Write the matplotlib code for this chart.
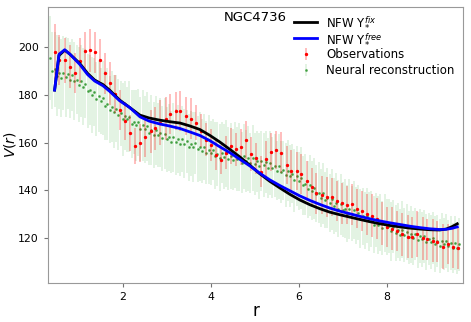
import numpy as np
import matplotlib
matplotlib.use('Agg')
import matplotlib.pyplot as plt

# observations (red points with error bars)
obs_r = [0.45, 0.56, 0.68, 0.79, 0.91, 1.02, 1.14, 1.25, 1.37, 1.48,
         1.60, 1.71, 1.82, 1.94, 2.05, 2.17, 2.28, 2.40, 2.51, 2.63,
         2.74, 2.85, 2.97, 3.08, 3.20, 3.31, 3.43, 3.54, 3.66, 3.77,
         3.89, 4.00, 4.11, 4.23, 4.34, 4.46, 4.57, 4.69, 4.80, 4.92,
         5.03, 5.14, 5.26, 5.37, 5.49, 5.60, 5.72, 5.83, 5.95, 6.06,
         6.18, 6.29, 6.40, 6.52, 6.63, 6.75, 6.86, 6.98, 7.09, 7.21,
         7.32, 7.43, 7.55, 7.66, 7.78, 7.89, 8.01, 8.12, 8.24, 8.35,
         8.47, 8.58, 8.69, 8.81, 8.92, 9.04, 9.15, 9.27, 9.38, 9.50,
         9.61]
obs_v = [198.0, 194.6, 194.5, 191.8, 189.2, 194.3, 198.5, 198.7, 197.8, 194.6,
         189.0, 184.8, 180.2, 173.6, 169.0, 164.0, 158.5, 160.0, 162.3, 164.8,
         166.0, 168.3, 170.0, 172.0, 173.3, 173.2, 171.2, 170.0, 168.4, 165.0,
         161.2, 159.0, 155.0, 152.8, 155.8, 158.5, 157.2, 158.2, 161.0, 155.2,
         153.4, 147.8, 153.0, 156.1, 156.9, 155.8, 150.6, 148.2, 148.2, 146.8,
         144.0, 141.2, 138.7, 138.0, 137.3, 137.3, 135.6, 134.5, 133.8, 134.1,
         132.4, 131.3, 130.0, 129.3, 128.2, 126.2, 124.7, 124.0, 123.0, 121.7,
         120.6, 120.3, 121.7, 119.9, 119.5, 118.9, 118.5, 116.4, 117.5, 116.4,
         115.7]
obs_err = [11.5, 10.5, 9.5, 9.0, 8.5, 9.5, 8.0, 9.0, 8.5, 9.0,
           8.5, 9.0, 8.0, 8.5, 8.0, 7.5, 7.5, 8.0, 8.5, 9.0,
           9.0, 9.5, 9.0, 8.5, 8.0, 8.5, 8.0, 8.5, 7.5, 7.0,
           7.0, 6.5, 6.5, 6.0, 7.0, 7.5, 7.0, 7.5, 8.0, 7.0,
           6.5, 6.5, 7.5, 8.0, 8.0, 8.5, 8.0, 8.5, 8.0, 8.5,
           8.5, 8.0, 8.5, 8.0, 8.5, 8.0, 8.5, 8.5, 8.0, 8.5,
           8.0, 8.5, 8.5, 9.0, 8.5, 9.0, 8.5, 9.0, 8.5, 9.0,
           9.0, 8.5, 9.5, 9.0, 8.5, 9.0, 8.5, 9.5, 8.5, 9.0,
           8.5]

# neural reconstruction (green points with error bars)
nn_r = [0.35, 0.40, 0.45, 0.50, 0.55, 0.60, 0.65, 0.70, 0.75, 0.80,
        0.85, 0.90, 0.95, 1.00, 1.05, 1.10, 1.15, 1.20, 1.25, 1.30,
        1.35, 1.40, 1.45, 1.50, 1.55, 1.60, 1.65, 1.70, 1.75, 1.80,
        1.85, 1.90, 1.95, 2.00, 2.05, 2.10, 2.15, 2.20, 2.25, 2.30,
        2.35, 2.40, 2.45, 2.50, 2.55, 2.60, 2.65, 2.70, 2.75, 2.80,
        2.85, 2.90, 2.95, 3.00, 3.05, 3.10, 3.15, 3.20, 3.25, 3.30,
        3.35, 3.40, 3.45, 3.50, 3.55, 3.60, 3.65, 3.70, 3.75, 3.80,
        3.85, 3.90, 3.95, 4.00, 4.05, 4.10, 4.15, 4.20, 4.25, 4.30,
        4.35, 4.40, 4.45, 4.50, 4.55, 4.60, 4.65, 4.70, 4.75, 4.80,
        4.85, 4.90, 4.95, 5.00, 5.05, 5.10, 5.15, 5.20, 5.25, 5.30,
        5.35, 5.40, 5.45, 5.50, 5.55, 5.60, 5.65, 5.70, 5.75, 5.80,
        5.85, 5.90, 5.95, 6.00, 6.05, 6.10, 6.15, 6.20, 6.25, 6.30,
        6.35, 6.40, 6.45, 6.50, 6.55, 6.60, 6.65, 6.70, 6.75, 6.80,
        6.85, 6.90, 6.95, 7.00, 7.05, 7.10, 7.15, 7.20, 7.25, 7.30,
        7.35, 7.40, 7.45, 7.50, 7.55, 7.60, 7.65, 7.70, 7.75, 7.80,
        7.85, 7.90, 7.95, 8.00, 8.05, 8.10, 8.15, 8.20, 8.25, 8.30,
        8.35, 8.40, 8.45, 8.50, 8.55, 8.60, 8.65, 8.70, 8.75, 8.80,
        8.85, 8.90, 8.95, 9.00, 9.05, 9.10, 9.15, 9.20, 9.25, 9.30,
        9.35, 9.40, 9.45, 9.50, 9.55, 9.60, 9.65]
nn_v = [195.5, 190.2, 190.7, 188.0, 189.3, 187.2, 189.1, 187.6, 188.8, 186.3,
        188.3, 185.8, 186.4, 184.3, 185.8, 183.5, 184.6, 181.6, 182.0, 179.9,
        181.3, 178.2, 179.4, 177.6, 178.7, 175.5, 176.1, 173.8, 175.1, 172.9,
        174.2, 171.6, 172.3, 169.7, 171.3, 169.7, 170.9, 167.9, 168.7, 167.2,
        168.5, 165.6, 167.2, 165.5, 166.8, 164.0, 165.2, 163.3, 165.1, 163.2,
        164.1, 161.9, 163.8, 161.4, 162.2, 160.2, 162.2, 160.2, 161.4, 159.3,
        161.4, 159.5, 160.6, 158.1, 159.5, 158.1, 159.9, 157.3, 158.3, 156.4,
        158.2, 155.8, 157.1, 155.6, 157.1, 154.5, 155.4, 153.7, 155.7, 154.0,
        155.5, 153.2, 154.4, 152.8, 154.9, 153.2, 154.0, 151.6, 154.2, 152.4,
        153.5, 151.4, 153.6, 151.1, 152.1, 150.2, 152.2, 150.5, 151.7, 149.3,
        151.4, 149.4, 150.3, 148.2, 150.1, 147.7, 148.4, 146.5, 148.3, 146.1,
        146.9, 144.3, 146.0, 144.0, 145.2, 142.1, 142.5, 140.4, 142.2, 139.8,
        140.9, 138.6, 139.1, 136.7, 138.7, 136.0, 136.7, 134.7, 136.3, 133.4,
        134.8, 132.3, 134.1, 131.9, 132.4, 130.2, 132.2, 130.3, 131.8, 129.5,
        130.7, 128.1, 129.1, 127.4, 129.4, 127.0, 127.9, 125.7, 127.5, 125.4,
        126.7, 124.2, 126.4, 124.6, 125.1, 122.9, 124.8, 122.2, 123.3, 121.3,
        123.5, 121.4, 122.6, 120.3, 121.6, 120.1, 121.9, 119.2, 120.9, 119.5,
        120.8, 118.3, 119.7, 118.3, 120.1, 117.5, 118.8, 116.6, 118.9, 117.7,
        118.9, 116.7, 117.9, 115.8, 117.8, 115.9, 117.4]
nn_err = [17.5, 16.2, 15.8, 17.0, 15.1, 16.4, 15.5, 16.8, 14.9, 15.9,
          15.2, 16.3, 14.6, 15.8, 14.9, 16.1, 14.4, 15.5, 14.8, 15.9,
          14.3, 15.6, 14.9, 13.8, 15.4, 14.5, 15.1, 13.9, 14.8, 15.3,
          14.1, 14.9, 13.6, 15.2, 14.4, 13.7, 15.0, 14.2, 13.5, 14.8,
          14.0, 13.3, 14.7, 13.9, 14.5, 13.2, 14.6, 13.8, 14.3, 13.4,
          14.4, 13.6, 14.9, 13.5, 14.1, 13.0, 14.6, 13.7, 14.2, 13.3,
          13.9, 14.5, 13.2, 14.0, 13.6, 14.7, 13.1, 13.9, 14.4, 13.3,
          13.8, 13.1, 14.3, 13.5, 12.9, 14.1, 13.4, 13.9, 12.8, 13.6,
          14.0, 13.2, 13.7, 12.7, 13.9, 13.3, 14.2, 12.8, 13.5, 13.0,
          13.6, 12.6, 13.8, 13.1, 12.9, 13.7, 12.5, 13.4, 13.0, 12.7,
          13.5, 12.8, 13.2, 12.4, 13.6, 12.9, 12.3, 13.3, 12.6, 13.1,
          12.4, 13.2, 12.7, 12.1, 13.0, 12.5, 12.9, 12.0, 12.8, 12.3,
          12.7, 11.9, 12.6, 12.2, 12.9, 11.8, 12.5, 12.1, 12.7, 11.7,
          12.4, 12.0, 12.8, 11.6, 12.3, 11.9, 12.6, 11.5, 12.2, 12.0,
          11.6, 12.4, 11.8, 12.1, 11.4, 12.5, 11.7, 12.0, 11.3, 12.2,
          11.9, 11.2, 12.1, 11.6, 11.4, 12.3, 11.1, 11.8, 11.5, 11.0,
          12.0, 11.3, 11.7, 11.0, 11.9, 11.4, 10.9, 11.8, 11.2, 11.5,
          11.1, 11.7, 10.8, 11.4, 11.0, 11.6, 10.7, 11.3, 11.5, 10.9,
          11.4, 10.8, 11.2, 10.6, 11.3, 10.9, 11.1]

# NFW model curves
model_r = [0.45, 0.55, 0.68, 0.80, 1.02, 1.20, 1.36, 1.55, 1.70, 1.93,
           2.15, 2.39, 2.60, 2.84, 3.05, 3.30, 3.52, 3.75, 3.98, 4.20,
           4.43, 4.66, 4.89, 5.11, 5.34, 5.57, 5.80, 6.02, 6.25, 6.48,
           6.70, 6.93, 7.16, 7.39, 7.61, 7.84, 8.07, 8.30, 8.52, 8.75,
           8.98, 9.20, 9.35, 9.48, 9.60]
nfw_fix = [182.0, 196.5, 198.7, 197.0, 193.2, 189.0, 186.2, 184.3, 182.0, 177.8,
           174.8, 171.5, 170.3, 169.4, 168.8, 168.2, 167.0, 165.5, 163.0, 160.3,
           157.2, 154.0, 150.5, 147.0, 143.8, 141.0, 138.3, 136.0, 134.0, 132.3,
           130.9, 129.8, 128.8, 127.8, 126.9, 126.0, 125.3, 124.7, 124.2, 123.8,
           123.5, 123.4, 123.8, 124.8, 126.0]
nfw_free = [182.0, 197.0, 198.9, 197.0, 192.8, 188.5, 185.8, 183.8, 181.5, 177.5,
            174.8, 170.8, 169.0, 167.8, 167.0, 165.9, 164.5, 163.0, 160.8, 158.3,
            155.8, 153.0, 150.2, 147.2, 144.4, 142.0, 139.8, 137.7, 135.8, 134.1,
            132.6, 131.3, 130.2, 129.1, 128.1, 127.2, 126.4, 125.7, 125.0, 124.4,
            123.9, 123.6, 123.7, 124.1, 124.7]

fig = plt.figure(figsize=(4.71, 3.22), dpi=100)
ax = fig.add_axes([48/471, 1 - 283/322, 415/471, 276/322])

ax.plot(model_r, nfw_fix, color='black', lw=2, label=r'NFW Y$_{*}^{fix}$', zorder=4)
ax.plot(model_r, nfw_free, color='blue', lw=2, label=r'NFW Y$_{*}^{free}$', zorder=5)
ax.errorbar(obs_r, obs_v, yerr=obs_err, fmt='.', color='red', markersize=2.8,
            ecolor=(1, 0, 0, 0.33), elinewidth=1.1, label='Observations', zorder=3)
ax.errorbar(nn_r, nn_v, yerr=nn_err, fmt='.', color=(0.2, 0.6, 0.2, 0.75), markersize=2,
            ecolor=(0.35, 0.72, 0.35, 0.22), elinewidth=1.1, label='Neural reconstruction', zorder=2)

ax.set_xlim(0.3, 9.73)
ax.set_ylim(101.2, 216.8)
ax.set_xticks([2, 4, 6, 8])
ax.set_yticks([120, 140, 160, 180, 200])
ax.tick_params(labelsize=7.8, length=3, color='0.45')
for s in ax.spines.values():
    s.set_color('0.6')

ax.set_xlabel('r', fontsize=12, labelpad=0)
ax.set_ylabel(r'$V(r)$', fontsize=10)
ax.yaxis.set_label_coords(-0.072, 0.5)
ax.text(0.5, 0.985, 'NGC4736', transform=ax.transAxes, ha='center', va='top', fontsize=9.5)
ax.legend(loc='upper right', frameon=False, fontsize=8.5, borderaxespad=0.3,
          labelspacing=0.25, handlelength=1.9)

fig.savefig('out.png', dpi=100)
